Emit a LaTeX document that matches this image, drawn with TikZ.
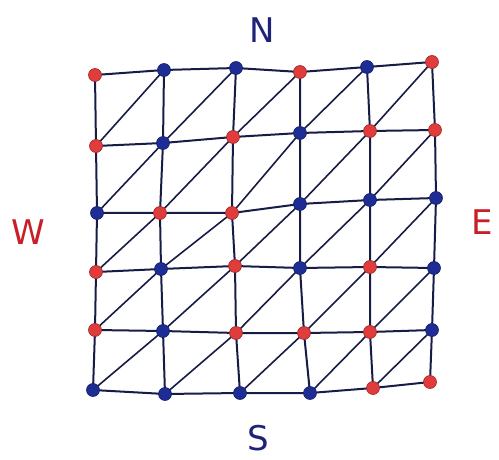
\documentclass[tikz,border=0pt]{standalone}
\usepackage{fontspec}
\setmainfont{DejaVu Sans}
\definecolor{inkline}{RGB}{22,28,70}
\definecolor{dotred}{RGB}{225,60,60}
\definecolor{dotblue}{RGB}{30,45,150}
\definecolor{letterred}{RGB}{200,30,40}
\definecolor{letterblue}{RGB}{30,35,120}
\begin{document}
\begin{tikzpicture}[x=1pt,y=-1pt,
  gridline/.style={draw=inkline,line width=2pt,line cap=round},
  rdot/.style={circle,fill=dotred,draw=dotred!70!black,line width=0.6pt,minimum size=13pt,inner sep=0pt},
  bdot/.style={circle,fill=dotblue,draw=dotblue!70!black,line width=0.6pt,minimum size=13pt,inner sep=0pt},
  compass/.style={font=\fontsize{34}{36}\selectfont,inner sep=0pt}]
\useasboundingbox (0,0) rectangle (499,460);
% grid coordinates (row, column)
\coordinate (p11) at (95,75);  \coordinate (p12) at (164,70);  \coordinate (p13) at (236,68);
\coordinate (p14) at (300,72); \coordinate (p15) at (367,67);  \coordinate (p16) at (432,62);
\coordinate (p21) at (96,146); \coordinate (p22) at (163,143); \coordinate (p23) at (233,137);
\coordinate (p24) at (300,133);\coordinate (p25) at (370,131); \coordinate (p26) at (435,130);
\coordinate (p31) at (97,213); \coordinate (p32) at (160,213); \coordinate (p33) at (232,213);
\coordinate (p34) at (300,204);\coordinate (p35) at (370,200); \coordinate (p36) at (436,198);
\coordinate (p41) at (96,272); \coordinate (p42) at (161,269); \coordinate (p43) at (235,266);
\coordinate (p44) at (300,268);\coordinate (p45) at (370,267); \coordinate (p46) at (434,268);
\coordinate (p51) at (95,330); \coordinate (p52) at (163,331); \coordinate (p53) at (236,333);
\coordinate (p54) at (304,333);\coordinate (p55) at (370,332); \coordinate (p56) at (432,330);
\coordinate (p61) at (93,390); \coordinate (p62) at (165,394); \coordinate (p63) at (240,393);
\coordinate (p64) at (310,393);\coordinate (p65) at (373,388); \coordinate (p66) at (430,382);
% horizontal lines
\foreach \r in {1,...,6}{
  \draw[gridline] (p\r1) -- (p\r2) -- (p\r3) -- (p\r4) -- (p\r5) -- (p\r6);
}
% vertical lines
\foreach \c in {1,...,6}{
  \draw[gridline] (p1\c) -- (p2\c) -- (p3\c) -- (p4\c) -- (p5\c) -- (p6\c);
}
% diagonals (bottom-left to top-right of each cell)
\foreach \r [evaluate=\r as \rr using int(\r+1)] in {1,...,5}{
  \foreach \c [evaluate=\c as \cc using int(\c+1)] in {1,...,5}{
    \draw[gridline,line width=1.6pt] (p\rr\c) -- (p\r\cc);
  }
}
% dots
\node[rdot] (d11) at (p11) {}; \node[bdot] (d12) at (p12) {}; \node[bdot] (d13) at (p13) {};
\node[rdot] (d14) at (p14) {}; \node[bdot] (d15) at (p15) {}; \node[rdot] (d16) at (p16) {};
\node[rdot] (d21) at (p21) {}; \node[bdot] (d22) at (p22) {}; \node[rdot] (d23) at (p23) {};
\node[bdot] (d24) at (p24) {}; \node[rdot] (d25) at (p25) {}; \node[rdot] (d26) at (p26) {};
\node[bdot] (d31) at (p31) {}; \node[rdot] (d32) at (p32) {}; \node[rdot] (d33) at (p33) {};
\node[bdot] (d34) at (p34) {}; \node[bdot] (d35) at (p35) {}; \node[bdot] (d36) at (p36) {};
\node[rdot] (d41) at (p41) {}; \node[bdot] (d42) at (p42) {}; \node[rdot] (d43) at (p43) {};
\node[bdot] (d44) at (p44) {}; \node[rdot] (d45) at (p45) {}; \node[bdot] (d46) at (p46) {};
\node[rdot] (d51) at (p51) {}; \node[bdot] (d52) at (p52) {}; \node[rdot] (d53) at (p53) {};
\node[rdot] (d54) at (p54) {}; \node[rdot] (d55) at (p55) {}; \node[bdot] (d56) at (p56) {};
\node[bdot] (d61) at (p61) {}; \node[bdot] (d62) at (p62) {}; \node[bdot] (d63) at (p63) {};
\node[bdot] (d64) at (p64) {}; \node[rdot] (d65) at (p65) {}; \node[rdot] (d66) at (p66) {};
% compass labels
\node[compass,text=letterblue] (north) at (262,30) {N};
\node[compass,text=letterred] (west) at (28,232) {W};
\node[compass,text=letterred] (east) at (482,222) {E};
\node[compass,text=letterblue] (south) at (258,438) {S};
\end{tikzpicture}
\end{document}
